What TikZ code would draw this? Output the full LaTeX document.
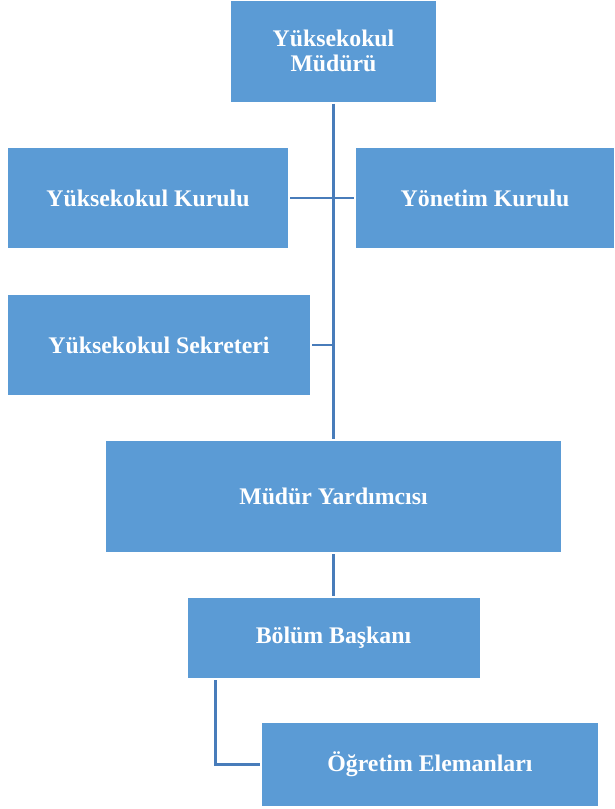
\documentclass[tikz,border=0pt]{standalone}
\usepackage{fontspec}
\setmainfont{Liberation Serif}
\usepackage{tikz}
\usetikzlibrary{positioning}
\definecolor{boxblue}{RGB}{91,155,213}
\definecolor{lineblue}{RGB}{72,124,186}

\begin{document}
\begin{tikzpicture}[x=1pt, y=-1pt,
    box/.style={fill=boxblue, draw=none, inner sep=0pt, align=center, text=white,
        font=\fontsize{23.8}{25.5}\selectfont\bfseries},
    link/.style={draw=lineblue, line width=2.4pt, shorten >=2pt, shorten <=2pt}]
    \useasboundingbox (0,0) rectangle (614,809);

    \node (mudur) [box, minimum width=205pt, minimum height=101pt] at (333.5,51) {Yüksekokul\\Müdürü};
    \node (ykurul) [box, minimum width=280pt, minimum height=100pt] at (148,198) {Yüksekokul Kurulu};
    \node (yonetim) [box, minimum width=258pt, minimum height=100pt] at (485,198) {Yönetim Kurulu};
    \node (sekreter) [box, minimum width=302pt, minimum height=100pt] at (159,345) {Yüksekokul Sekreteri};
    \node (yardimci) [box, minimum width=455pt, minimum height=111pt] at (333.5,496.5) {Müdür Yardımcısı};
    \node (bolum) [box, minimum width=292pt, minimum height=80pt] at (333.5,638) {Bölüm Başkanı};
    \node (ogretim) [box, minimum width=336pt, minimum height=83pt] at (430,764.5) {Öğretim Elemanları};

    \coordinate (elbow) at ([xshift=28pt]bolum.south west);

    \draw [link] (mudur) -- (yardimci);
    \draw [link] (ykurul) -- (yonetim);
    \draw [link, shorten >=0pt] (sekreter.east) -- (sekreter.east -| mudur.south);
    \draw [link] (yardimci) -- (bolum);
    \draw [link] (elbow) |- (ogretim.west);
\end{tikzpicture}
\end{document}
